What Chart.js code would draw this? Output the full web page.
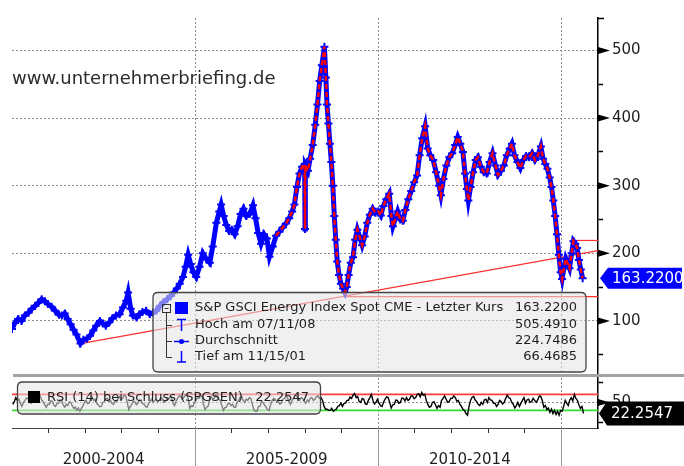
<!DOCTYPE html>
<html>
<head>
<meta charset="utf-8">
<script src="https://cdn.jsdelivr.net/npm/chart.js@4.4.1/dist/chart.umd.min.js"></script>
<style>
html, body { margin: 0; padding: 0; background: #fff; }
#wrap { position: relative; width: 684px; height: 466px; overflow: hidden; }
canvas { position: absolute; left: 0; top: 0; }
</style>
</head>
<body>
<div id="wrap">
  <canvas id="priceCanvas" width="684" height="466"></canvas>
  <canvas id="rsiCanvas" width="684" height="466"></canvas>
</div>
<script>
// S&P GSCI Energy Index, readings (decimal years)
var priceDates = [
  2000.00, 2000.08, 2000.17, 2000.26, 2000.35, 2000.45, 2000.54, 2000.63, 2000.72, 2000.81, 2000.90, 2000.98,
  2001.08, 2001.18, 2001.28, 2001.36, 2001.44, 2001.52, 2001.60, 2001.68, 2001.76, 2001.87, 2001.95,
  2002.05, 2002.13, 2002.22, 2002.30, 2002.40, 2002.48, 2002.56, 2002.66, 2002.74, 2002.84, 2002.94,
  2003.03, 2003.12, 2003.17, 2003.24, 2003.30, 2003.40, 2003.48, 2003.56, 2003.66, 2003.76, 2003.85, 2003.94,
  2004.04, 2004.14, 2004.24, 2004.33, 2004.42, 2004.50, 2004.58, 2004.67, 2004.74, 2004.81, 2004.88, 2004.95,
  2005.03, 2005.12, 2005.21, 2005.30, 2005.40, 2005.48, 2005.58, 2005.66, 2005.71, 2005.78, 2005.85, 2005.93,
  2006.00, 2006.08, 2006.16, 2006.24, 2006.32, 2006.40, 2006.49, 2006.58, 2006.65, 2006.72, 2006.80, 2006.88, 2006.96,
  2007.03, 2007.12, 2007.21, 2007.30, 2007.39, 2007.48, 2007.57, 2007.65, 2007.71, 2007.78, 2007.85, 2007.92, 2007.99,
  2008.00, 2008.01, 2008.08, 2008.14, 2008.21, 2008.28, 2008.34, 2008.40, 2008.46, 2008.53, 2008.57, 2008.60,
  2008.64, 2008.68, 2008.72, 2008.76, 2008.80, 2008.84, 2008.88, 2008.93, 2008.98,
  2009.04, 2009.09, 2009.14, 2009.19, 2009.25, 2009.31, 2009.37, 2009.43, 2009.49, 2009.56, 2009.63, 2009.70, 2009.77, 2009.85, 2009.92,
  2010.00, 2010.07, 2010.14, 2010.22, 2010.30, 2010.36, 2010.40, 2010.47, 2010.53, 2010.60, 2010.67, 2010.74, 2010.82, 2010.90, 2010.98,
  2011.06, 2011.13, 2011.20, 2011.28, 2011.35, 2011.42, 2011.50, 2011.58, 2011.66, 2011.71, 2011.78, 2011.86, 2011.94,
  2012.02, 2012.10, 2012.17, 2012.24, 2012.31, 2012.37, 2012.42, 2012.46, 2012.52, 2012.59, 2012.66, 2012.72, 2012.80, 2012.88, 2012.96,
  2013.04, 2013.12, 2013.20, 2013.27, 2013.35, 2013.43, 2013.51, 2013.59, 2013.65, 2013.72, 2013.80, 2013.88, 2013.96,
  2014.04, 2014.12, 2014.20, 2014.28, 2014.36, 2014.44, 2014.50, 2014.56, 2014.62, 2014.68, 2014.73, 2014.78, 2014.83, 2014.88, 2014.93, 2014.98,
  2015.02, 2015.07, 2015.12, 2015.17, 2015.22, 2015.28, 2015.33, 2015.38, 2015.43, 2015.48, 2015.53, 2015.58
];
var priceValues = [
  88, 97, 103, 100, 108, 112, 118, 122, 127, 132, 129, 125,
  121, 115, 109, 108, 111, 103, 95, 87, 80, 66.5, 72,
  74, 78, 86, 93, 100, 96, 93, 98, 104, 108, 110,
  120, 130, 142, 118, 108, 105, 110, 113, 115, 110, 112, 115,
  122, 128, 132, 137, 142, 148, 155, 165, 180, 198, 184, 172,
  165, 180, 200, 192, 186, 210, 245, 262, 272, 255, 242, 233,
  235, 228, 240, 258, 266, 255, 258, 271, 252, 230, 214, 228, 222,
  195, 210, 226, 232, 238, 244, 252, 262, 272, 298, 318, 328, 332,
  236, 330, 322, 340, 360, 390, 420, 455, 478, 505.5, 460, 420,
  392, 362, 335, 300, 255, 220, 188, 168, 155,
  148, 142, 150, 168, 186, 194, 220, 235, 225, 212, 225, 245, 257, 266, 260,
  262, 256, 270, 280, 288, 255, 240, 252, 262, 250, 248, 264, 280, 292, 305,
  315, 345, 370, 388, 355, 345, 338, 320, 300, 286, 310, 330, 342,
  348, 360, 372, 362, 350, 318, 295, 278, 298, 320, 338, 342, 328, 320, 318,
  335, 348, 330, 316, 322, 330, 345, 355, 362, 345, 335, 326, 338,
  344, 342, 348, 338, 345, 358, 340, 332, 325, 312, 298, 278, 255, 228, 198, 172,
  162, 178, 192, 185, 178, 200, 218, 214, 208, 190, 176, 163.22
];
var redFrom = 2007.2;

// RSI (14), two readings per month from Jan 2000
var rsiValues = [
  45, 52, 62, 55, 58, 47, 40, 50, 55, 61, 60, 52, 48, 56, 64, 57, 58, 63, 66, 55, 52, 44, 38, 46,
  45, 54, 52, 43, 40, 47, 48, 56, 55, 44, 38, 45, 42, 51, 50, 41, 35, 38, 30, 36, 28, 35, 42, 50,
  55, 47, 48, 58, 63, 55, 58, 47, 44, 39, 40, 50, 52, 59, 60, 52, 55, 47, 45, 53, 52, 60, 64, 57,
  60, 68, 66, 50, 32, 40, 45, 53, 52, 44, 48, 56, 55, 47, 46, 40, 38, 47, 52, 58, 50, 55, 58, 51,
  55, 62, 60, 50, 52, 59, 58, 64, 62, 48, 42, 53, 60, 66, 65, 58, 62, 68, 68, 59, 35, 42, 40, 50,
  55, 62, 60, 67, 66, 45, 32, 38, 40, 56, 64, 58, 60, 69, 68, 58, 55, 42, 30, 37, 38, 47, 48, 42,
  45, 38, 38, 50, 55, 63, 65, 55, 50, 58, 55, 62, 60, 45, 32, 28, 28, 40, 40, 52, 50, 43, 38, 32,
  30, 45, 55, 60, 58, 50, 52, 46, 48, 58, 60, 66, 62, 52, 45, 55, 60, 68, 68, 57, 55, 62, 60, 52,
  48, 56, 52, 61, 62, 55, 58, 64, 66, 60, 62, 55, 40, 33, 33, 30, 30, 35, 28, 31, 33, 40, 42, 48,
  40, 47, 48, 55, 55, 63, 60, 68, 72, 62, 65, 52, 50, 60, 58, 46, 45, 55, 62, 70, 55, 46, 50, 58,
  48, 42, 40, 51, 58, 64, 62, 50, 36, 44, 45, 56, 55, 48, 50, 61, 60, 54, 62, 55, 58, 66, 66, 59,
  62, 70, 72, 64, 75, 68, 70, 55, 45, 38, 40, 50, 52, 44, 35, 42, 38, 55, 60, 66, 58, 50, 52, 60,
  60, 66, 62, 53, 55, 45, 40, 33, 30, 22, 18, 40, 55, 63, 65, 56, 52, 45, 42, 50, 45, 56, 58, 50,
  62, 56, 55, 48, 48, 40, 45, 55, 52, 46, 50, 60, 68, 62, 60, 50, 45, 36, 42, 50, 40, 48, 55, 62,
  48, 56, 58, 50, 52, 60, 55, 50, 56, 66, 65, 55, 38, 42, 32, 36, 25, 33, 22, 30, 20, 28, 18, 30,
  28, 40, 55, 48, 42, 56, 62, 54, 70, 60, 55, 44, 35, 40, 22.25
];
var rsiFirstYear = 2000;
var rsiPerYear = 24;

var priceTicks = [50, 100, 150, 200, 250, 300, 350, 400, 450, 500];
var rsiTicks = [0, 50, 100];
var yearTicks = [2001, 2002, 2003, 2004, 2005, 2006, 2007, 2008, 2009, 2010, 2011, 2012, 2013, 2014, 2015];
var periodYears = [2005, 2010, 2015];
var periodLabels = ['2000-2004', '2005-2009', '2010-2014'];
var periodCenters = [2002.5, 2007.5, 2012.5];

var trendX = [2001.87, 2016];
var trendY = [66.5, 204];
var supportX = [2009.1, 2016];
var supportY = [136, 136];
var resistX = [2015.33, 2016];
var resistY = [219, 219];
var rsiHighX = [2000, 2016];
var rsiHighY = [70, 70];
var rsiLowX = [2000, 2016];
var rsiLowY = [30, 30];

var lastPrice = 163.22;
var lastRsi = 22.2547;
var legendRows = [
  ['S&P GSCI Energy Index Spot CME - Letzter Kurs', '163.2200'],
  ['Hoch am 07/11/08', '505.4910'],
  ['Durchschnitt', '224.7486'],
  ['Tief am 11/15/01', '66.4685']
];
var rsiLegend = ['RSI (14) bei Schluss (SPGSEN)', '22.2547'];
var watermark = 'www.unternehmerbriefing.de';

Chart.defaults.font.family = '"DejaVu Sans", sans-serif';

function pts(xs, ys) {
  return xs.map(function (x, i) { return { x: x, y: ys[i] }; });
}

var pricePts = pts(priceDates, priceValues);
var redPts = pricePts.filter(function (p) { return p.x >= redFrom; });
var rsiPts = rsiValues.map(function (v, i) { return { x: rsiFirstYear + (i + 0.5) / rsiPerYear, y: v }; });

var FONT = '"DejaVu Sans", sans-serif';
var GRID = '#8c8c8c';
var NONE = 'rgba(0,0,0,0)';

function roundRect(ctx, x, y, w, h, r) {
  ctx.beginPath();
  ctx.moveTo(x + r, y);
  ctx.lineTo(x + w - r, y);
  ctx.quadraticCurveTo(x + w, y, x + w, y + r);
  ctx.lineTo(x + w, y + h - r);
  ctx.quadraticCurveTo(x + w, y + h, x + w - r, y + h);
  ctx.lineTo(x + r, y + h);
  ctx.quadraticCurveTo(x, y + h, x, y + h - r);
  ctx.lineTo(x, y + r);
  ctx.quadraticCurveTo(x, y, x + r, y);
  ctx.closePath();
}

function tag(ctx, tipX, yMid, right, h, fill, text) {
  ctx.beginPath();
  ctx.moveTo(tipX, yMid);
  ctx.lineTo(tipX + 8, yMid - h / 2);
  ctx.lineTo(right, yMid - h / 2);
  ctx.lineTo(right, yMid + h / 2);
  ctx.lineTo(tipX + 8, yMid + h / 2);
  ctx.closePath();
  ctx.fillStyle = fill;
  ctx.fill();
  ctx.fillStyle = '#fff';
  ctx.font = '15px ' + FONT;
  ctx.textAlign = 'left';
  ctx.textBaseline = 'middle';
  ctx.fillText(text, tipX + 12, yMid + 1);
}

function arrow(ctx, x, y) {
  ctx.beginPath();
  ctx.moveTo(x, y - 3.5);
  ctx.lineTo(x + 12, y);
  ctx.lineTo(x, y + 3.5);
  ctx.closePath();
  ctx.fillStyle = '#000';
  ctx.fill();
}

// dotted year dividers, drawn under the data
var priceGrid = {
  id: 'priceGrid',
  beforeDatasetsDraw: function (chart) {
    var ctx = chart.ctx, a = chart.chartArea, x = chart.scales.x;
    ctx.save();
    ctx.strokeStyle = GRID;
    ctx.lineWidth = 1;
    ctx.setLineDash([2, 2]);
    ctx.beginPath();
    periodYears.forEach(function (yr) {
      var px = Math.round(x.getPixelForValue(yr)) + 0.5;
      ctx.moveTo(px, a.top);
      ctx.lineTo(px, a.bottom);
    });
    ctx.stroke();
    ctx.restore();
  }
};

var priceDecor = {
  id: 'priceDecor',
  afterDraw: function (chart) {
    var ctx = chart.ctx, a = chart.chartArea, y = chart.scales.y;
    ctx.save();
    // watermark
    ctx.font = '18px ' + FONT;
    ctx.fillStyle = '#2b2b2b';
    ctx.textBaseline = 'middle';
    ctx.fillText(watermark, 12, 79);
    // axis arrows and top cap
    priceTicks.forEach(function (v) {
      if (v % 100 === 0) arrow(ctx, a.right, y.getPixelForValue(v));
    });
    ctx.strokeStyle = '#000';
    ctx.lineWidth = 1.5;
    ctx.beginPath();
    ctx.moveTo(a.right, a.top + 0.5);
    ctx.lineTo(a.right + 6, a.top + 0.5);
    ctx.stroke();
    // panel separator
    ctx.fillStyle = '#a3a3a3';
    ctx.fillRect(13, a.bottom - 1, 684 - 13, 3);

    // legend box
    roundRect(ctx, 153, 292.5, 433, 79.5, 5);
    ctx.fillStyle = 'rgba(228,228,228,0.56)';
    ctx.fill();
    ctx.strokeStyle = '#444';
    ctx.lineWidth = 1.3;
    ctx.stroke();
    var rowsY = [308, 325, 341, 357];
    // tree
    ctx.strokeStyle = '#333';
    ctx.lineWidth = 1;
    ctx.strokeRect(162.5, 304.5, 8, 8);
    ctx.beginPath();
    ctx.moveTo(164.5, 308.5); ctx.lineTo(168.5, 308.5);
    ctx.moveTo(166.5, 312.5); ctx.lineTo(166.5, 357.5);
    [325, 341, 357].forEach(function (ry) { ctx.moveTo(166.5, ry + 0.5); ctx.lineTo(172, ry + 0.5); });
    ctx.stroke();
    // icons
    ctx.fillStyle = '#0000ff';
    ctx.fillRect(175, 302, 13, 12);
    ctx.strokeStyle = '#0000ff';
    ctx.lineWidth = 1.5;
    ctx.beginPath();
    ctx.moveTo(177, 319.5); ctx.lineTo(186, 319.5);
    ctx.moveTo(181.5, 319.5); ctx.lineTo(181.5, 331);
    ctx.moveTo(174, 341.5); ctx.lineTo(189, 341.5);
    ctx.moveTo(181.5, 351); ctx.lineTo(181.5, 362);
    ctx.moveTo(177, 362); ctx.lineTo(186, 362);
    ctx.stroke();
    ctx.beginPath();
    ctx.arc(181.5, 341.5, 2.5, 0, Math.PI * 2);
    ctx.fill();
    // texts
    ctx.font = '13px ' + FONT;
    ctx.fillStyle = '#1e1e1e';
    ctx.textBaseline = 'middle';
    legendRows.forEach(function (r, i) {
      ctx.textAlign = 'left';
      ctx.fillText(r[0], 195, rowsY[i]);
      ctx.textAlign = 'right';
      ctx.fillText(r[1], 577, rowsY[i]);
    });
    // last price tag
    tag(ctx, 600, y.getPixelForValue(lastPrice), 682, 21, '#0000ff', '163.2200');
    ctx.restore();
  }
};

var rsiDecor = {
  id: 'rsiDecor',
  afterDraw: function (chart) {
    var ctx = chart.ctx, a = chart.chartArea, x = chart.scales.x, y = chart.scales.y;
    ctx.save();
    arrow(ctx, a.right, y.getPixelForValue(50));
    // legend
    roundRect(ctx, 17.5, 382, 303, 32, 5);
    ctx.fillStyle = 'rgba(228,228,228,0.56)';
    ctx.fill();
    ctx.strokeStyle = '#444';
    ctx.lineWidth = 1.3;
    ctx.stroke();
    ctx.fillStyle = '#000';
    ctx.fillRect(28, 391, 12, 12);
    ctx.font = '13px ' + FONT;
    ctx.fillStyle = '#1e1e1e';
    ctx.textBaseline = 'middle';
    ctx.textAlign = 'left';
    ctx.fillText(rsiLegend[0], 47, 398);
    ctx.textAlign = 'right';
    ctx.fillText(rsiLegend[1], 309, 398);
    // tag
    tag(ctx, 599, y.getPixelForValue(lastRsi), 684, 24, '#000', '22.2547');
    // period separators and labels
    ctx.strokeStyle = '#999';
    ctx.lineWidth = 1;
    ctx.beginPath();
    periodYears.forEach(function (yr) {
      var px = Math.round(x.getPixelForValue(yr)) + 0.5;
      ctx.moveTo(px, a.bottom);
      ctx.lineTo(px, 466);
    });
    ctx.stroke();
    ctx.font = '15px ' + FONT;
    ctx.fillStyle = '#1e1e1e';
    ctx.textAlign = 'center';
    periodLabels.forEach(function (t, i) {
      ctx.fillText(t, x.getPixelForValue(periodCenters[i]), 460);
    });
    ctx.restore();
  }
};

function line(data, color, width, dash) {
  return { data: data, borderColor: color, borderWidth: width, borderDash: dash || [], pointRadius: 0, tension: 0, fill: false };
}

var blue = line(pricePts, '#0000ff', 5);
blue.pointRadius = 4;
blue.pointStyle = 'cross';
blue.pointBorderWidth = 2;
blue.pointBorderColor = '#0000ff';

new Chart(document.getElementById('priceCanvas'), {
  type: 'line',
  data: {
    datasets: [
      line(redPts, '#ff0000', 2.5, [5, 3]),
      blue,
      line(pts(trendX, trendY), '#ff3030', 1.2),
      line(pts(supportX, supportY), '#ff3030', 1.2),
      line(pts(resistX, resistY), '#ff3030', 1.2)
    ]
  },
  options: {
    responsive: false, animation: false, parsing: false,
    layout: { padding: { left: 12, top: 14, right: 0, bottom: 91 } },
    plugins: { legend: { display: false }, tooltip: { enabled: false } },
    scales: {
      x: {
        type: 'linear', min: 2000, max: 2016,
        afterFit: function (s) { s.height = 0; },
        ticks: { display: false },
        grid: { display: false },
        border: { display: false }
      },
      y: {
        position: 'right', min: 20, max: 548,
        afterFit: function (s) { s.width = 86; },
        afterBuildTicks: function (s) { s.ticks = priceTicks.map(function (v) { return { value: v }; }); },
        ticks: {
          callback: function (v) { return v % 100 === 0 ? String(v) : ''; },
          font: { size: 15 }, color: '#1e1e1e', padding: 9
        },
        grid: {
          color: function (c) { return c.tick && c.tick.value % 100 === 0 ? GRID : NONE; },
          tickColor: function (c) { return c.tick && c.tick.value % 100 !== 0 ? '#000' : NONE; },
          drawTicks: true, tickLength: 5, tickWidth: 1.5, lineWidth: 1
        },
        border: { display: true, color: '#000', width: 1.5, dash: [2, 2] }
      }
    }
  },
  plugins: [priceGrid, priceDecor]
});

new Chart(document.getElementById('rsiCanvas'), {
  type: 'line',
  data: {
    datasets: [
      line(rsiPts, '#000', 1.4),
      line(pts(rsiHighX, rsiHighY), '#ff3b3b', 1.8),
      line(pts(rsiLowX, rsiLowY), '#33dd33', 1.8)
    ]
  },
  options: {
    responsive: false, animation: false, parsing: false,
    layout: { padding: { left: 12, top: 378, right: 0, bottom: 0 } },
    plugins: { legend: { display: false }, tooltip: { enabled: false } },
    scales: {
      x: {
        type: 'linear', min: 2000, max: 2016,
        afterFit: function (s) { s.height = 38; },
        afterBuildTicks: function (s) { s.ticks = yearTicks.map(function (v) { return { value: v }; }); },
        ticks: { display: false },
        grid: {
          color: function (c) { return c.tick && c.tick.value % 5 === 0 ? GRID : NONE; },
          tickColor: function (c) { return c.tick && c.tick.value % 5 !== 0 ? '#333' : NONE; },
          drawTicks: true, tickLength: 5, lineWidth: 1
        },
        border: { display: true, color: '#444', width: 1, dash: [2, 2] }
      },
      y: {
        position: 'right', min: -14, max: 111,
        afterFit: function (s) { s.width = 86; },
        afterBuildTicks: function (s) { s.ticks = rsiTicks.map(function (v) { return { value: v }; }); },
        ticks: {
          callback: function (v) { return v === 50 ? '50' : ''; },
          font: { size: 15 }, color: '#1e1e1e', padding: 9
        },
        grid: {
          color: function (c) { return c.tick && c.tick.value === 50 ? GRID : NONE; },
          tickColor: function (c) { return c.tick && c.tick.value !== 50 ? '#000' : NONE; },
          drawTicks: true, tickLength: 5, tickWidth: 1.5, lineWidth: 1
        },
        border: { display: true, color: '#000', width: 1.5, dash: [2, 2] }
      }
    }
  },
  plugins: [rsiDecor]
});
</script>
</body>
</html>
